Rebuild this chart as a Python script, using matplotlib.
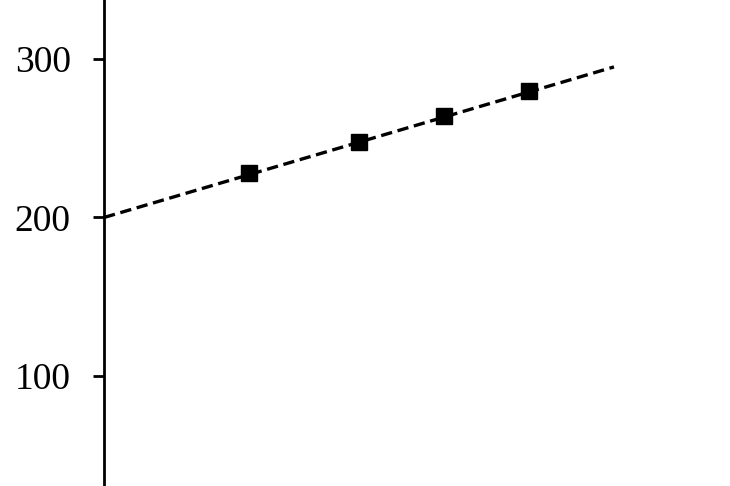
import numpy as np
import matplotlib.pyplot as plt

x_pts = [0.17, 0.30, 0.40, 0.50]
y_pts = [228, 247.5, 264, 279.5]
fit_x = [0.0, 0.6]
fit_y = [200, 295]
yticks = [100, 200, 300]

plt.rcParams['font.family'] = ['Liberation Serif', 'DejaVu Serif']

fig = plt.figure(figsize=(7.3, 4.86), dpi=100)
ax = fig.add_axes([0, 0, 1, 1])

ax.plot(fit_x, fit_y, color='black', linestyle='--', dashes=(3.4, 1.7), linewidth=2.4)
ax.plot(x_pts, y_pts, linestyle='none', marker='s', color='black', markersize=11.5)

ax.set_xlim(-0.1224, 0.7365)
ax.set_ylim(30.6, 337.2)
ax.set_yticks(yticks)
ax.set_yticklabels([str(v) for v in yticks])

ax.spines['left'].set_position(('data', 0))
ax.spines['left'].set_linewidth(2)
for s in ['top', 'right', 'bottom']:
    ax.spines[s].set_visible(False)
ax.xaxis.set_visible(False)
ax.tick_params(axis='y', direction='out', length=8, width=2, labelsize=27, pad=16)

fig.savefig('out.png', dpi=100)
